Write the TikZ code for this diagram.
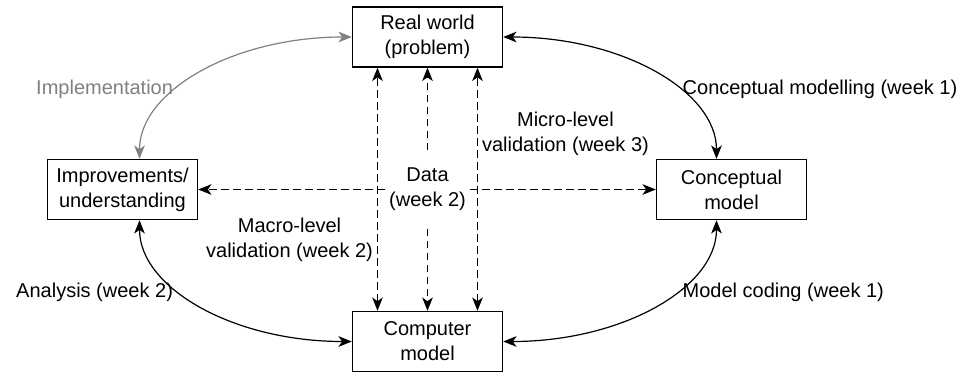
\documentclass[tikz,border=0pt]{standalone}
\usepackage{fontspec}
\setmainfont{Liberation Sans}
\usetikzlibrary{arrows.meta}
\definecolor{implgray}{RGB}{128,128,128}
\tikzset{
	box/.style={draw=black, line width=1.1pt, minimum width=112.5pt, minimum height=45pt, align=center, inner sep=0pt},
	both/.style={line width=0.9pt, {Stealth[length=10pt, width=8pt, inset=2.8pt]}-{Stealth[length=10pt, width=8pt, inset=2.8pt]}},
	one/.style={line width=0.9pt, -{Stealth[length=10pt, width=8pt, inset=2.8pt]}},
	dsh/.style={dash pattern=on 5.5pt off 3.5pt},
	lbl/.style={inner sep=5pt, align=center},
}
\begin{document}
\begin{tikzpicture}[x=0.75pt,y=-0.75pt, font=\fontsize{15pt}{18.75pt}\selectfont]
	\useasboundingbox (0,0) rectangle (963,372);
	\node[box] (real) at (427.5,37) {Real world\\(problem)};
	\node[box] (concept) at (731.5,189.5) {Conceptual\\model};
	\node[box] (computer) at (427.5,341.5) {Computer\\model};
	\node[box] (improve) at (122.5,189.5) {Improvements/\\understanding};
	\node[align=center, minimum width=63.75pt, minimum height=58.5pt, inner sep=0pt] (data) at (427.5,189.5) {Data\\(week 2)};

	% curved links round the cycle
	\draw[both] (real.east) .. controls +(118,0) and +(0,-68) .. ([xshift=-11.25pt]concept.north)
		node[pos=0.6, right, lbl, yshift=-2pt] (modlbl) {Conceptual modelling (week 1)};
	\draw[both] (computer.east) .. controls +(118,0) and +(0,68) .. ([xshift=-11.25pt]concept.south)
		node[pos=0.6, right, lbl] (codlbl) {Model coding (week 1)};
	\draw[both] (computer.west) .. controls +(-118,0) and +(0,68) .. ([xshift=12.75pt]improve.south)
		node[pos=0.6, left, lbl] (anllbl) {Analysis (week 2)};
	\draw[both, implgray] (real.west) .. controls +(-118,0) and +(0,-68) .. ([xshift=12.75pt]improve.north)
		node[pos=0.6, left, lbl, yshift=-2pt] (implbl) {Implementation};

	% data links
	\foreach \a/\b in {west/improve.east, east/concept.west, north/real.south, south/computer.north}{
		\draw[one, dsh] (data.\a) -- (\b);
	}

	% validation links
	\draw[both, dsh] ([xshift=-37.5pt]computer.north) -- ([xshift=-37.5pt]real.south)
		node[pos=0.29, left, inner sep=3pt, align=center] (macro) {Macro-level\\validation (week 2)};
	\draw[both, dsh] ([xshift=37.5pt]computer.north) -- ([xshift=37.5pt]real.south)
		node[pos=0.727, right, inner sep=3pt, align=center] (micro) {Micro-level\\validation (week 3)};
\end{tikzpicture}
\end{document}
